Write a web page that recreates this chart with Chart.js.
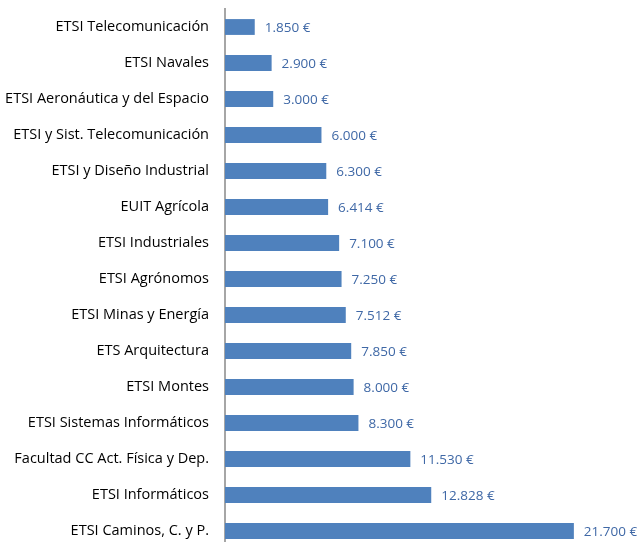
<!DOCTYPE html>
<html>
<head>
<meta charset="utf-8">
<script src="https://cdn.jsdelivr.net/npm/chart.js@4"></script>
<style>
html, body { margin: 0; padding: 0; overflow: hidden; background: #fff; }
canvas { display: block; }
</style>
</head>
<body>
<canvas id="bar-chart" width="643" height="549"></canvas>
<script>
const centros = [
    "ETSI Telecomunicación",
    "ETSI Navales",
    "ETSI Aeronáutica y del Espacio",
    "ETSI y Sist. Telecomunicación",
    "ETSI y Diseño Industrial",
    "EUIT Agrícola",
    "ETSI Industriales",
    "ETSI Agrónomos",
    "ETSI Minas y Energía",
    "ETS Arquitectura",
    "ETSI Montes",
    "ETSI Sistemas Informáticos",
    "Facultad CC Act. Física y Dep.",
    "ETSI Informáticos",
    "ETSI Caminos, C. y P."
];
const importes = [1850, 2900, 3000, 6000, 6300, 6414, 7100, 7250, 7512, 7850, 8000, 8300, 11530, 12828, 21700];

function euros(v) {
    return String(v).replace(/\B(?=(\d{3})+(?!\d))/g, ".") + " €";
}

// etiquetas de valor a la derecha de cada barra
const etiquetas = {
    id: "etiquetas",
    afterDatasetsDraw(chart) {
        const ctx = chart.ctx;
        const meta = chart.getDatasetMeta(0);
        ctx.save();
        ctx.font = "13.5px 'Open Sans'";
        ctx.fillStyle = "#3F68A6";
        ctx.textAlign = "left";
        ctx.textBaseline = "middle";
        meta.data.forEach((bar, i) => {
            ctx.fillText(euros(importes[i]), bar.x + 10, bar.y + 1);
        });
        ctx.restore();
    }
};

const data = {
    labels: centros,
    datasets: [
        {
            data: importes,
            backgroundColor: "#4F81BD",
            borderWidth: 0,
            barPercentage: 0.44,
            categoryPercentage: 1,
        },
    ],
};

const config = {
    type: "bar",
    data: data,
    options: {
        indexAxis: "y",
        responsive: false,
        animation: false,
        layout: { padding: { top: 9, right: 0, bottom: 0, left: 0 } },
        plugins: {
            legend: { display: false },
            tooltip: { enabled: false },
        },
        scales: {
            x: {
                display: false,
                min: 0,
                max: 26000,
            },
            y: {
                afterFit(scale) {
                    scale.width = 225;
                    scale.paddingTop = 0;
                    scale.paddingBottom = 0;
                },
                grid: { display: false, drawTicks: false },
                border: { display: true, color: "#A6A6A6", width: 2 },
                ticks: {
                    color: "#000",
                    padding: 16,
                    font: { family: "Open Sans", size: 14.5 },
                },
            },
        },
    },
    plugins: [etiquetas],
};

const myChart = new Chart(document.getElementById("bar-chart"), config);
</script>
</body>
</html>
